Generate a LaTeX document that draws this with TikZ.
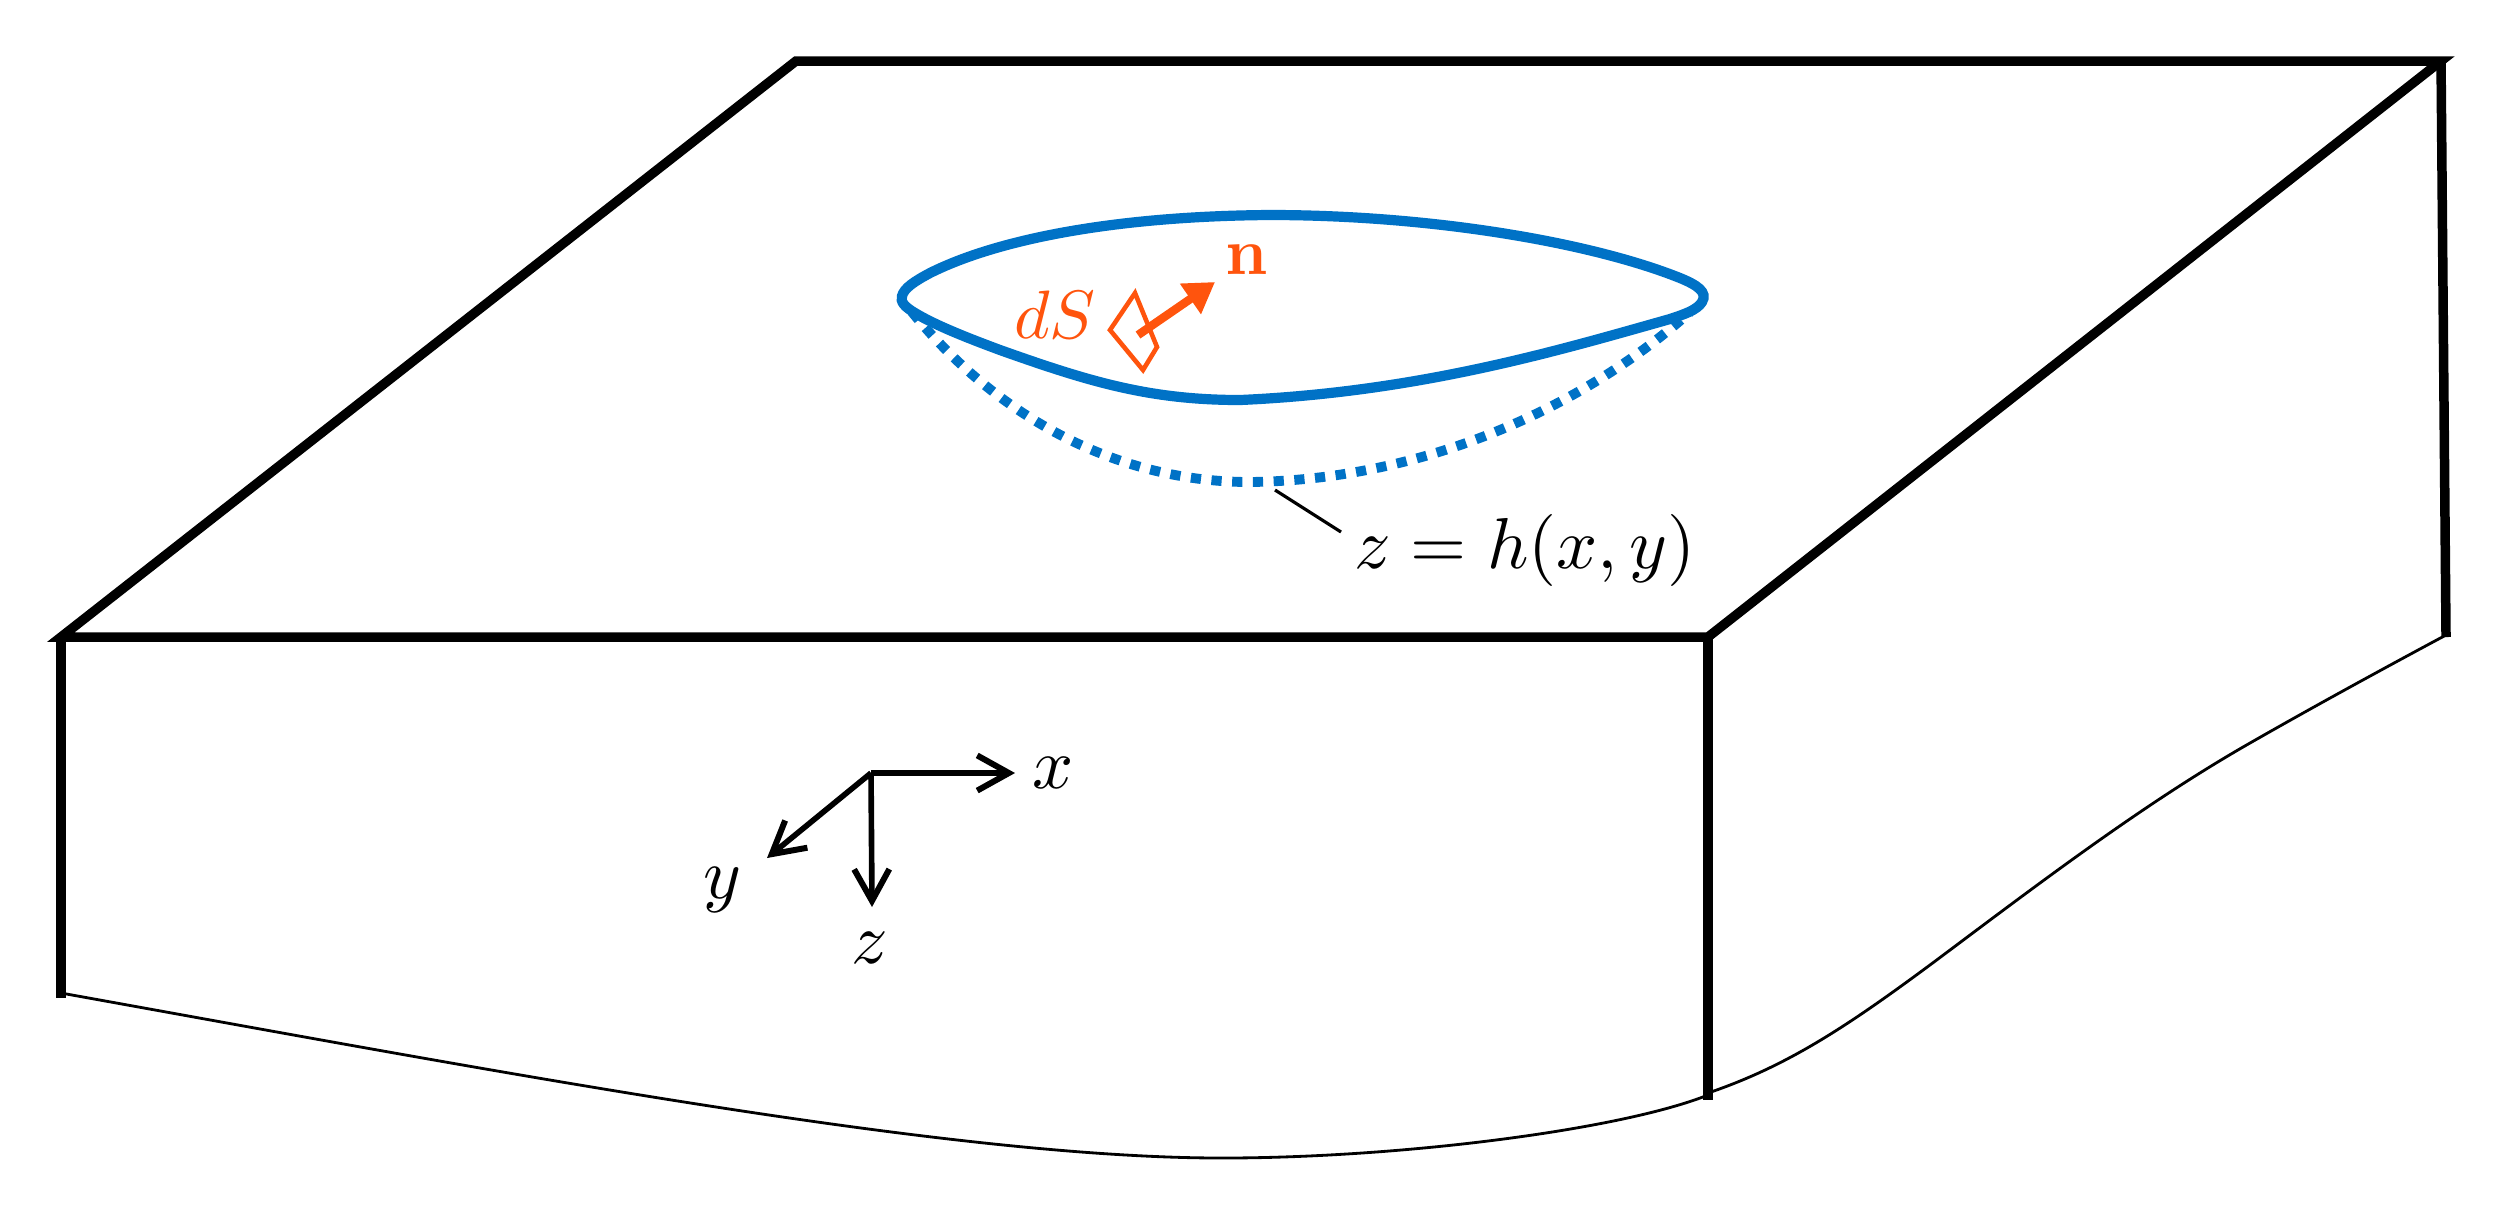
\documentclass[tikz,border=0pt]{standalone}
\usepackage{amsmath,amsfonts,amssymb}
\usepackage{xcolor}
\usetikzlibrary{positioning,calc}
\usetikzlibrary{arrows.meta}
\definecolor{surfblue}{RGB}{0, 114, 198}
\definecolor{orangered}{RGB}{255, 84, 13}

\begin{document}
\begin{tikzpicture}[x=0.01cm,y=-0.01cm]
        \useasboundingbox (0,0) rectangle (2510,1205);
        \tikzset{
            edge/.style={line width=2.7pt,line join=miter},
            thinedge/.style={line width=0.8pt},
            axis/.style={line width=1.6pt,-{Straight Barb[length=9pt,width=10pt,line width=1.7pt]}},
            lab/.style={scale=2.05,inner sep=0pt}
        }
        % Corners
        \coordinate (fl) at (61,637);
        \coordinate (bl) at (796,61);
        \coordinate (br) at (2441,61);
        \coordinate (fr) at (1708,637);

        % Box
        \draw[edge] (fl) -- (bl) -- (br) -- (fr) -- cycle;
        \draw[edge] (fl) -- (61,998);
        \draw[edge] (fr) -- (1708,1100);
        \draw[edge] (br) -- (2446,637);

        % Lower edges
        \draw[thinedge] (61,993) .. controls (500,1072) and (950,1158) .. (1222,1158) .. controls (1400,1158) and (1620,1130) .. (1708,1095);
        \draw[thinedge] (1708,1093) .. controls (1790,1065) and (1850,1025) .. (1950,950) .. controls (2050,875) and (2150,800) .. (2250,743) .. controls (2320,703) and (2390,665) .. (2446,635);

        % Surface
        \draw[surfblue,line width=2.8pt,dash pattern=on 2.9pt off 3pt] (912,312) .. controls (1000,420) and (1120,482) .. (1250,482) .. controls (1420,480) and (1580,410) .. (1690,312);
        \draw[surfblue,line width=2.9pt] (902,296) .. controls (904,288) and (915,281) .. (930,273) .. controls (1000,238) and (1120,216) .. (1270,215) .. controls (1430,215) and (1590,242) .. (1680,278) .. controls (1697,285) and (1708,292) .. (1702,302) .. controls (1697,310) and (1685,314) .. (1670,319) .. controls (1560,350) and (1420,392) .. (1240,400) .. controls (1150,400) and (1090,382) .. (1000,350) .. controls (965,337) and (935,325) .. (915,313) .. controls (905,307) and (900,302) .. cycle;

        % Element
        \draw[orangered,line width=1.3pt] (1135,293) -- (1110,330) -- (1143,370) -- (1157,347) -- cycle;
        \coordinate (nbase) at (1138,335);
        \coordinate (ntip) at (1215,282);
        \draw[orangered,line width=2.4pt,-{Triangle[length=8.5pt,width=10pt]}] (nbase) -- (ntip);
        \node[lab,orangered,scale=0.95] (dS) at (1055,315) {$dS$};
        \node[lab,orangered,scale=0.92] (nlab) at (1247,260) {$\mathbf{n}$};

        % Label
        \node[lab] (hlab) at (1525,550) {$z=h(x,y)$};
        \coordinate (hstart) at (1275,490);
        \coordinate (hend) at (1341,532);
        \draw[line width=0.9pt] (hstart) -- (hend);

        % Axes
        \coordinate (o) at (871,773);
        \coordinate (xend) at (1015,773);
        \coordinate (yend) at (767,858);
        \coordinate (zend) at (872,907);
        \draw[axis] (o) -- (xend);
        \draw[axis] (o) -- (yend);
        \draw[axis] (o) -- (zend);
        \node[lab] (xlab) at (1053,773) {$x$};
        \node[lab] (ylab) at (722,890) {$y$};
        \node[lab] (zlab) at (870,948) {$z$};
    \end{tikzpicture}
\end{document}
